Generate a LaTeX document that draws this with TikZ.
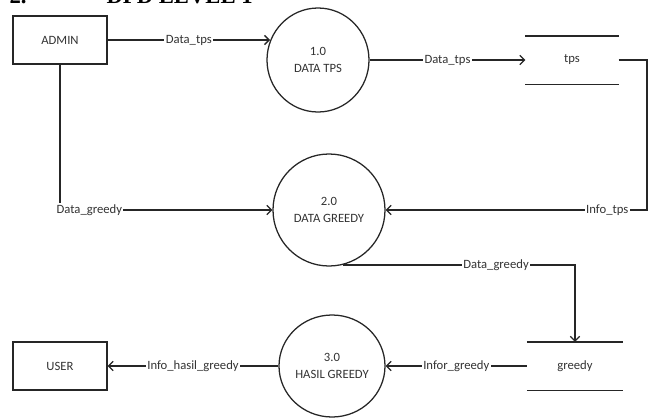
\documentclass[tikz,border=0pt]{standalone}
\usepackage{fontspec}
\setmainfont{Carlito}
\newfontfamily\headfont{Liberation Serif}
\usetikzlibrary{shapes.geometric,arrows.meta}

\tikzset{
  entity/.style={draw, rectangle, minimum width=94*0.75pt, minimum height=48*0.75pt, inner sep=0pt},
  proc/.style={draw, ellipse, align=center, inner sep=0pt},
  store/.style={rectangle, inner sep=0pt, minimum height=47*0.75pt},
  flowlbl/.style={fill=white, inner sep=1pt},
  flow/.style={-{Straight Barb[length=3.5pt,width=7pt]}}
}

\begin{document}
\begin{tikzpicture}[x=0.75pt,y=0.75pt,yscale=-1,xscale=1,
  line width=0.95pt, draw=black!85,
  every node/.append style={font=\fontsize{9.5}{12.5}\selectfont, text=black!80}]
\useasboundingbox (0,0) rectangle (650,418);

%heading, cut off at the top of the page
\node [anchor=base west, inner sep=0pt, font=\headfont\bfseries\fontsize{17}{20}\selectfont, text=black] (head) at (9,3) {2.\hspace{60pt}DFD LEVEL 1};

%Shape: entities
\node [entity] (admin) at (60,40) {ADMIN};
\node [entity] (user) at (60,366) {USER};

%Shape: processes
\node [proc, minimum width=102*0.75pt, minimum height=104*0.75pt] (p1) at (318,60) {1.0\\DATA TPS};
\node [proc, minimum width=112*0.75pt, minimum height=112*0.75pt] (p2) at (329,210) {2.0\\DATA GREEDY};
\node [proc, minimum width=106*0.75pt, minimum height=102*0.75pt] (p3) at (332,366) {3.0\\HASIL GREEDY};

%Shape: data stores
\node [store, minimum width=92*0.75pt] (tps) at (572,60) {tps};
\draw (tps.north west) -- (tps.north east);
\draw (tps.south west) -- (tps.south east);
\node [store, minimum width=95*0.75pt] (greedy) at (575,366) {greedy};
\draw (greedy.north west) -- (greedy.north east);
\draw (greedy.south west) -- (greedy.south east);

\coordinate (rc) at (647,60);

%Flows
\draw [flow] (admin.east) -- (admin.east -| p1.158) node [flowlbl, midway] {Data\_tps};
\draw [flow] (p1.east) -- (tps.west) node [flowlbl, midway] {Data\_tps};
\draw [flow] (tps.east) -- (rc) |- (p2.east) node [flowlbl, pos=0.576] {Info\_tps};
\draw [flow] (admin.south) |- (p2.west) node [flowlbl, pos=0.5, anchor=west, xshift=-4] {Data\_greedy};
\draw [flow] (p2.-76) -| (greedy.north) node [flowlbl, pos=0.33] {Data\_greedy};
\draw [flow] (greedy.west) -- (p3.east) node [flowlbl, midway] {Infor\_greedy};
\draw [flow] (p3.west) -- (user.east) node [flowlbl, midway] {Info\_hasil\_greedy};

\end{tikzpicture}
\end{document}
